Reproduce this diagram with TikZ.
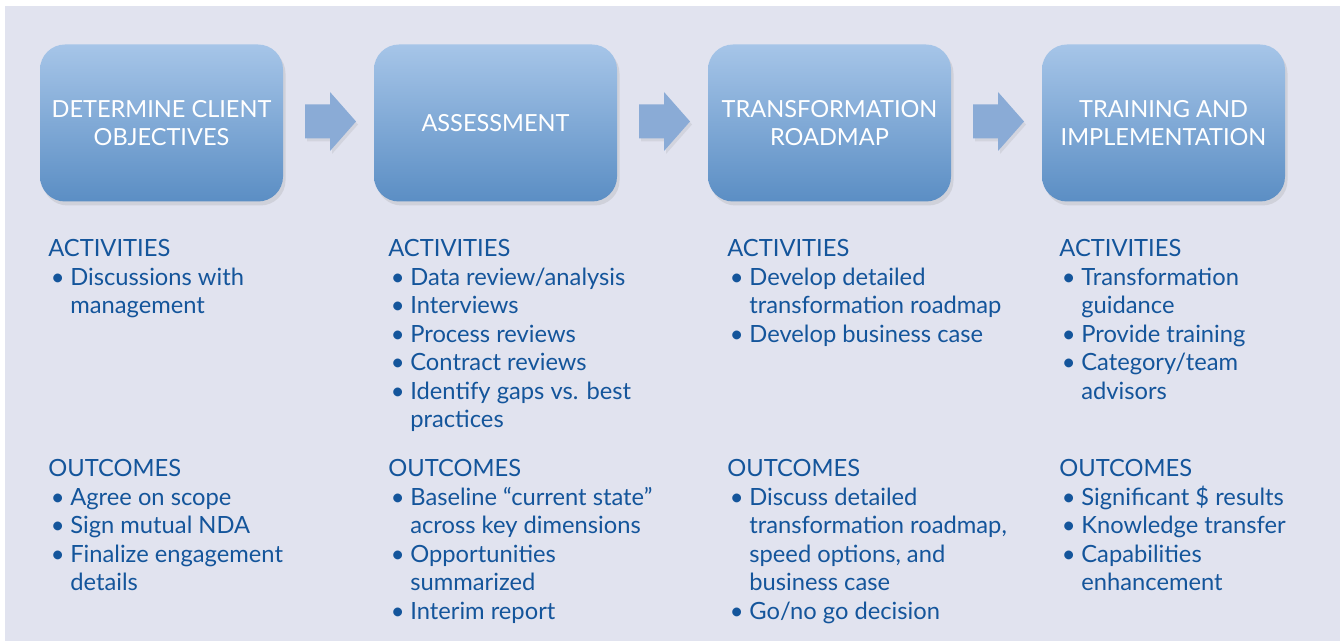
\documentclass[tikz,border=0pt]{standalone}
\usepackage{fontspec}
\setmainfont{Lato}
\usepackage{tikz}
\usetikzlibrary{positioning, calc, shadows}

\definecolor{panelbg}{HTML}{E1E3EF}
\definecolor{stagetop}{HTML}{A6C5E8}
\definecolor{stagebot}{HTML}{5B8EC4}
\definecolor{flowblue}{HTML}{8AABD6}
\definecolor{inkblue}{HTML}{14559B}

\newcommand{\blt}{\hspace*{0.05cm}\textbullet}
\newcommand{\sect}[2]{\begin{tabular}[t]{@{}p{0.44cm}@{}l@{}}\multicolumn{2}{@{}l@{}}{#1}\\#2\end{tabular}}

\begin{document}
\begin{tikzpicture}[
    stage/.style={rounded corners=0.5cm, minimum width=4.86cm, minimum height=3.14cm,
      top color=stagetop, bottom color=stagebot, text=white, align=center,
      font=\fontsize{13.4}{16}\selectfont,
      drop shadow={shadow xshift=0.05cm, shadow yshift=-0.08cm, opacity=0.18}},
    flow/.style={fill=flowblue,
      drop shadow={shadow xshift=0.04cm, shadow yshift=-0.06cm, opacity=0.15}},
    col/.style={anchor=base west, inner sep=0pt, text=inkblue,
      font=\fontsize{13.5}{16.2}\selectfont}
  ]
    \useasboundingbox (0,0) rectangle (26.8,12.82);
    % Draw background panel
    \fill[panelbg] (0.1,0) rectangle (26.8,12.7);

    % Stages
    \foreach \i/\x/\t in {1/3.23/{DETERMINE CLIENT\\OBJECTIVES}, 2/9.91/ASSESSMENT, 3/16.59/{TRANSFORMATION\\ROADMAP}, 4/23.27/{TRAINING AND\\IMPLEMENTATION}} {
      \node[stage] (s\i) at (\x,10.36) {\t};
    }

    % Draw block arrows between stages
    \foreach \i/\j in {1/2, 2/3, 3/4} {
      \coordinate (a\i) at ($(s\i.east)!0.5!(s\j.west)+(0.04,0.03)$);
      \fill[flow] (a\i) ++(-0.51,0.34) -- ++(0.5,0) -- ++(0,0.25) -- ++(0.52,-0.59)
        -- ++(-0.52,-0.59) -- ++(0,0.25) -- ++(-0.5,0) -- cycle;
    }

    % Activities
    \node[col] (act1) at (0.96,7.68) {\sect{ACTIVITIES}{\blt & Discussions with\\ & management}};
    \node[col] (act2) at (7.76,7.68) {\sect{ACTIVITIES}{\blt & Data review/analysis\\ \blt & Interviews\\ \blt & Process reviews\\ \blt & Contract reviews\\ \blt & Identify gaps vs. best\\ & practices}};
    \node[col] (act3) at (14.54,7.68) {\sect{ACTIVITIES}{\blt & Develop detailed\\ & transformation roadmap\\ \blt & Develop business case}};
    \node[col] (act4) at (21.18,7.68) {\sect{ACTIVITIES}{\blt & Transformation\\ & guidance\\ \blt & Provide training\\ \blt & Category/team\\ & advisors}};

    % Outcomes
    \node[col] (out1) at (0.96,3.28) {\sect{OUTCOMES}{\blt & Agree on scope\\ \blt & Sign mutual NDA\\ \blt & Finalize engagement\\ & details}};
    \node[col] (out2) at (7.76,3.28) {\sect{OUTCOMES}{\blt & Baseline ``current state''\\ & across key dimensions\\ \blt & Opportunities\\ & summarized\\ \blt & Interim report}};
    \node[col] (out3) at (14.54,3.28) {\sect{OUTCOMES}{\blt & Discuss detailed\\ & transformation roadmap,\\ & speed options, and\\ & business case\\ \blt & Go/no go decision}};
    \node[col] (out4) at (21.18,3.28) {\sect{OUTCOMES}{\blt & Significant \$ results\\ \blt & Knowledge transfer\\ \blt & Capabilities\\ & enhancement}};
\end{tikzpicture}
\end{document}
